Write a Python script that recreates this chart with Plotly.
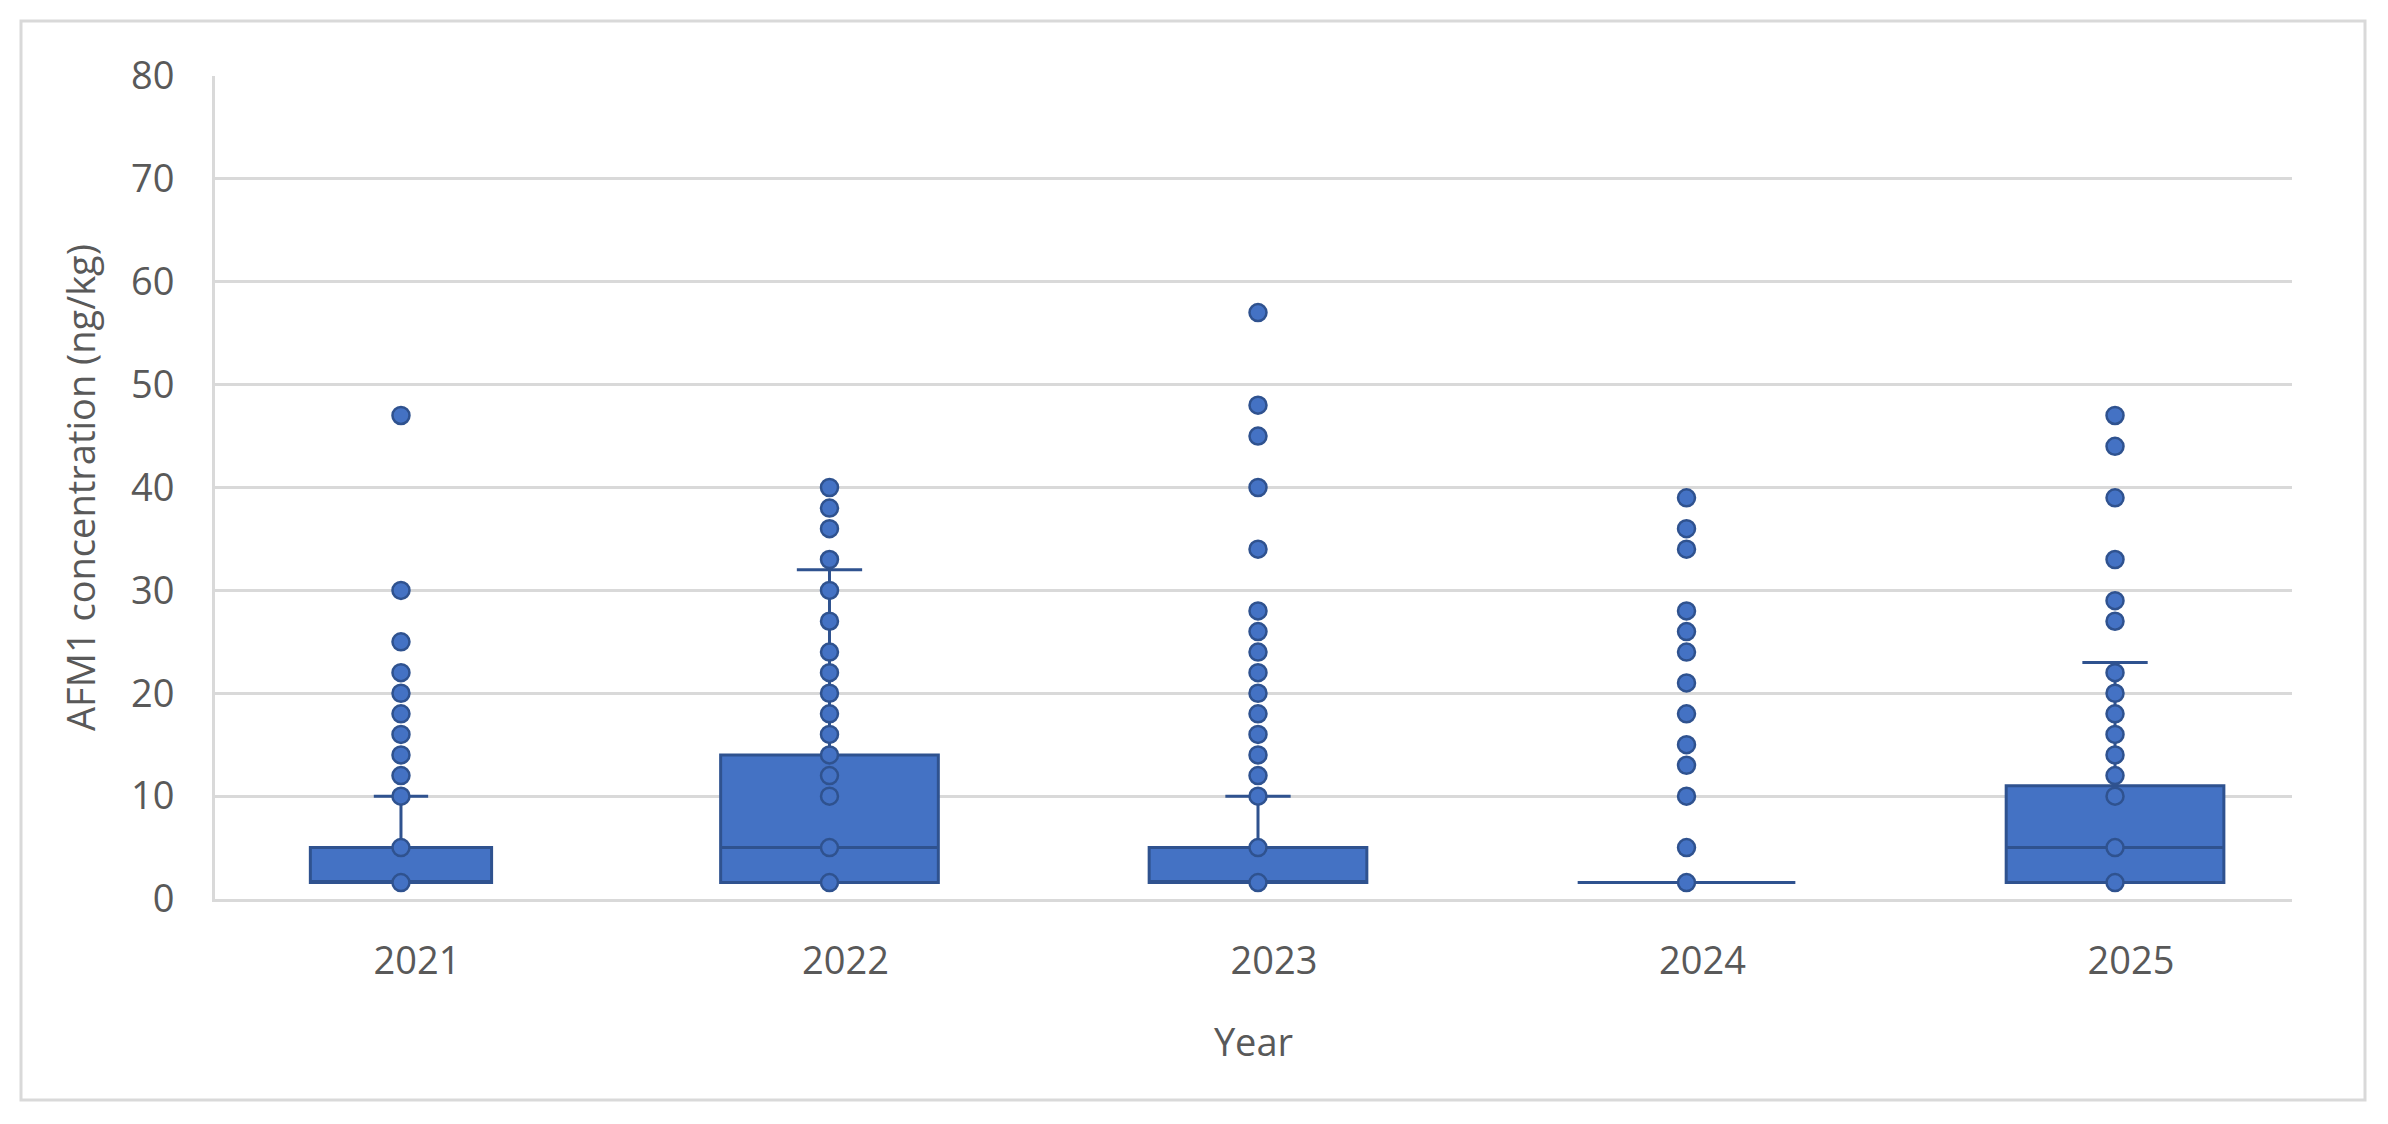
import plotly.graph_objects as go

# AFM1 in milk samples by year, box-and-whisker (Excel style)
years = ["2021", "2022", "2023", "2024", "2025"]

q1 = [1.6, 1.6, 1.6, 1.6, 1.6]
median = [1.6, 5, 1.6, 1.6, 5]
q3 = [5, 14, 5, 1.6, 11]
lower = [1.6, 1.6, 1.6, 1.6, 1.6]
upper = [10, 32, 10, 1.6, 23]

# distinct sample values shown as points for each year
pts_2021 = [1.6, 5, 10, 12, 14, 16, 18, 20, 22, 25, 30, 47]
pts_2022 = [1.6, 5, 10, 12, 14, 16, 18, 20, 22, 24, 27, 30, 33, 36, 38, 40]
pts_2023 = [1.6, 5, 10, 12, 14, 16, 18, 20, 22, 24, 26, 28, 34, 40, 45, 48, 57]
pts_2024 = [1.6, 5, 10, 13, 15, 18, 21, 24, 26, 28, 34, 36, 39]
pts_2025 = [1.6, 5, 10, 12, 14, 16, 18, 20, 22, 27, 29, 33, 39, 44, 47]
points = [pts_2021, pts_2022, pts_2023, pts_2024, pts_2025]

box_w = [0.423, 0.508, 0.508, 0.508, 0.508]

fill = "#4472C4"
edge = "#2F528F"
grey = "#D9D9D9"
txt = "#595959"
font = "Open Sans"

fig = go.Figure()

for i, yr in enumerate(years):
    fig.add_trace(go.Box(
        x=[yr], q1=[q1[i]], median=[median[i]], q3=[q3[i]],
        lowerfence=[lower[i]], upperfence=[upper[i]],
        boxpoints=False, width=box_w[i], whiskerwidth=0.3,
        fillcolor=fill, line=dict(color=edge, width=3),
        showlegend=False, hoverinfo="skip",
    ))

px_x = []
px_y = []
for yr, vals in zip(years, points):
    px_x += [yr] * len(vals)
    px_y += vals

fig.add_trace(go.Scatter(
    x=px_x, y=px_y, mode="markers",
    marker=dict(size=17, color=fill, line=dict(color=edge, width=2.5)),
    showlegend=False,
))

# page body adds an 8px margin, so the figure is a bit smaller than the window
W, H = 2380, 1116
L, R, T, B = 207, 96, 68, 225
pw = W - L - R
ph = H - T - B

# outer chart border
fig.add_shape(
    type="rect", xref="paper", yref="paper",
    x0=(13 - L) / pw, x1=(2357 - L) / pw,
    y0=(H - B - 1092) / ph, y1=(H - B - 13) / ph,
    line=dict(color=grey, width=3), layer="below",
)

fig.update_layout(
    width=W, height=H,
    margin=dict(l=L, r=R, t=T, b=B),
    paper_bgcolor="white", plot_bgcolor="white",
    boxmode="overlay",
    font=dict(family=font, size=38, color=txt),
)

fig.update_xaxes(
    type="category", categoryorder="array", categoryarray=years,
    range=[-0.434, 4.413],
    showgrid=False, showline=True, linecolor=grey, linewidth=3,
    ticks="", ticklabelstandoff=26, ticklabelshift=16,
    tickfont=dict(family=font, size=38, color=txt),
    title=dict(text="Year", standoff=46, font=dict(family=font, size=38, color=txt)),
)

fig.update_yaxes(
    range=[0, 80], dtick=10,
    showgrid=True, gridcolor=grey, gridwidth=3,
    showline=True, linecolor=grey, linewidth=3,
    zeroline=False, ticks="", ticklabelstandoff=30,
    tickfont=dict(family=font, size=38, color=txt),
    title=dict(text="AFM1 concentration (ng/kg)", standoff=24,
               font=dict(family=font, size=38, color=txt)),
)

fig.write_html("out.html")
